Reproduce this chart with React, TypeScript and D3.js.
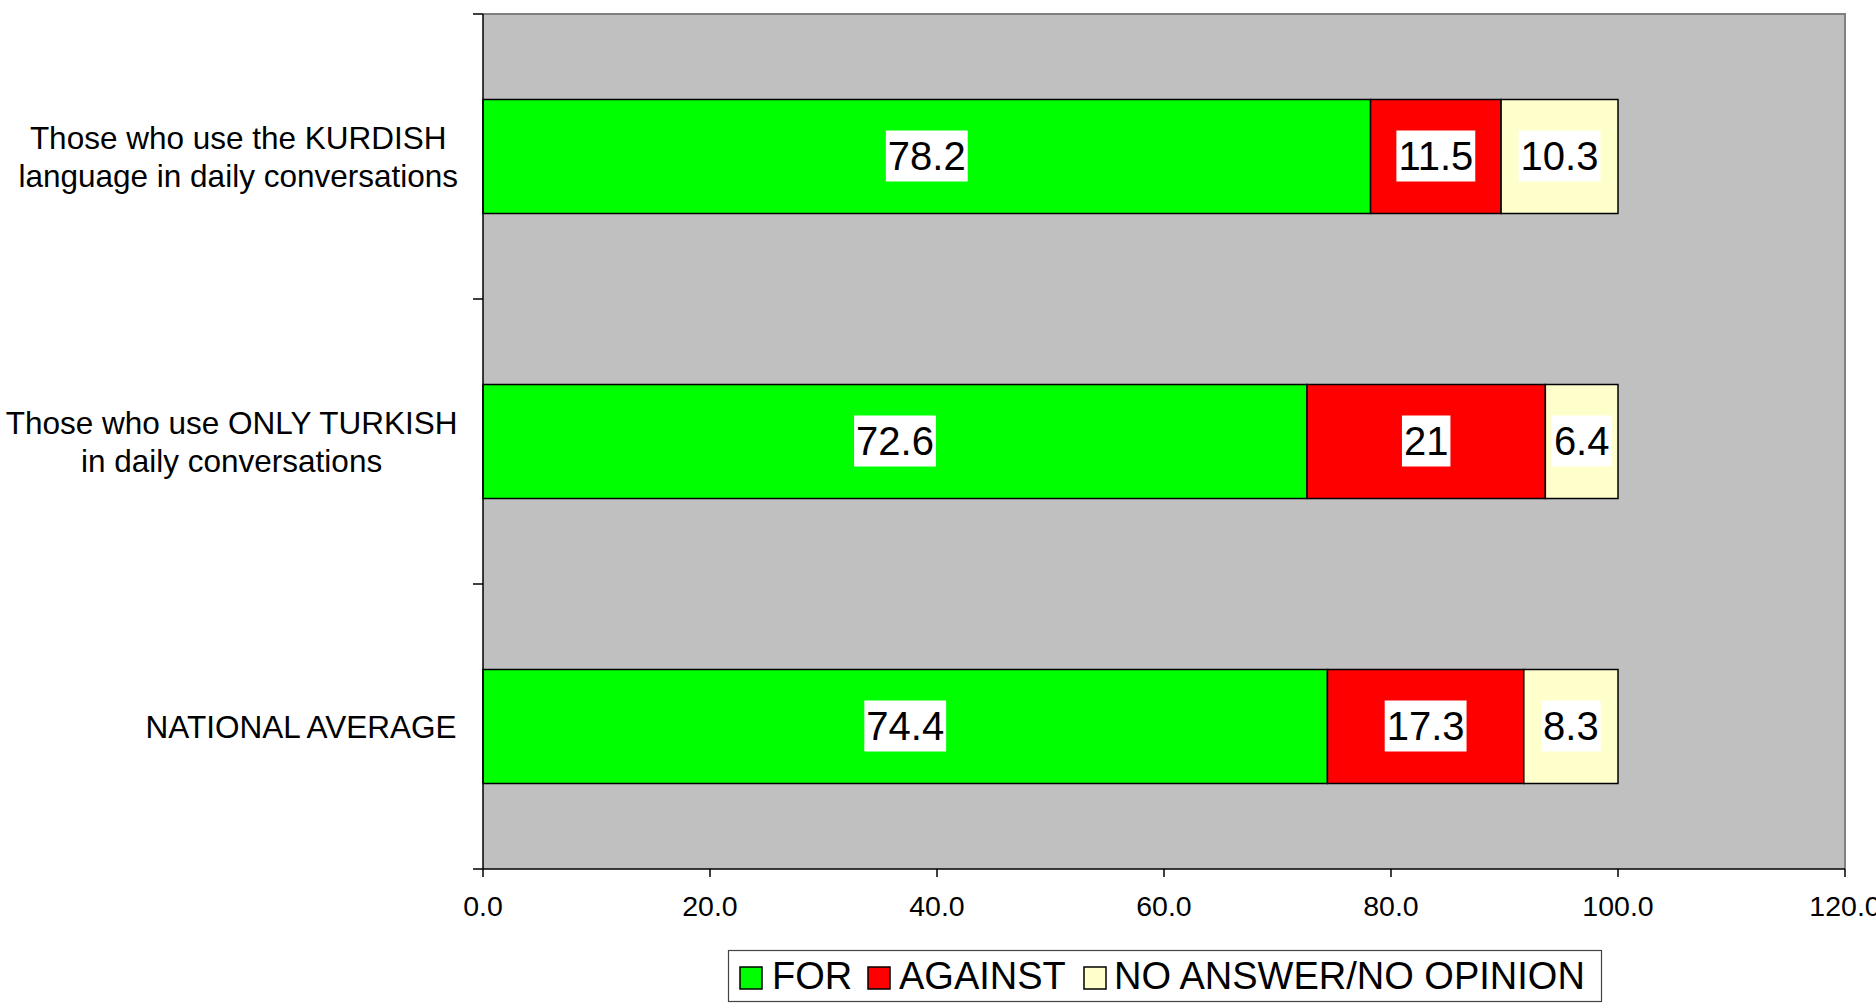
import React from "react";
import * as d3 from "d3";

const categories: string[][] = [
  ["Those who use the KURDISH", "language in daily conversations"],
  ["Those who use ONLY TURKISH", "in daily conversations"],
  ["NATIONAL AVERAGE"],
];
const seriesNames = ["FOR", "AGAINST", "NO ANSWER/NO OPINION"];
const seriesColors = ["#00FF00", "#FF0000", "#FFFFCC"];
const forValues = [78.2, 72.6, 74.4];
const againstValues = [11.5, 21, 17.3];
const noAnswerValues = [10.3, 6.4, 8.3];
const xTicks = [0, 20, 40, 60, 80, 100, 120];

const W = 1876;
const H = 1006;
const M = { left: 483, right: 1845, top: 14, bottom: 869 };
const FONT = "'Liberation Sans', Arial, sans-serif";

let ctx: CanvasRenderingContext2D | null = null;
function measure(text: string, size: number): number {
  if (typeof document === "undefined") return text.length * size * 0.55;
  if (!ctx) ctx = document.createElement("canvas").getContext("2d");
  if (!ctx) return text.length * size * 0.55;
  ctx.font = `${size}px 'Liberation Sans', Arial, sans-serif`;
  return ctx.measureText(text).width;
}

export default function App() {
  const x = d3.scaleLinear().domain([0, 120]).range([M.left, M.right]);
  const y = d3
    .scaleBand<number>()
    .domain(categories.map((_, i) => i))
    .range([M.top, M.bottom])
    .paddingInner(0.6)
    .paddingOuter(0.3);
  const step = y.step();

  const rows = categories.map((c, i) => ({
    i,
    values: [forValues[i], againstValues[i], noAnswerValues[i]],
  }));
  const stack = d3.stack<any>().keys(["0", "1", "2"]).value((d, k) => d.values[+k]);
  const stacked = stack(rows);

  const labelFont = 31.5;
  const dataFont = 40;
  const tickFont = 28.5;
  const legendFont = 38;

  const legendItems = [
    { sx: 740, tx: 772 },
    { sx: 868, tx: 899 },
    { sx: 1084, tx: 1114 },
  ];

  return (
    <svg
      width={W}
      height={H}
      style={{ position: "absolute", left: 0, top: 0, background: "#fff" }}
      fontFamily={FONT}
    >
      <rect x={M.left} y={M.top} width={M.right - M.left} height={M.bottom - M.top} fill="#C0C0C0" />
      <path
        d={`M${M.left},${M.top}H${M.right}V${M.bottom}`}
        fill="none"
        stroke="#808080"
        strokeWidth={2}
      />

      {stacked.map((layer, si) =>
        layer.map((d, ci) => {
          const y0 = y(ci)!;
          return (
            <rect
              key={`${si}-${ci}`}
              x={x(d[0])}
              y={y0}
              width={x(d[1]) - x(d[0])}
              height={y.bandwidth()}
              fill={seriesColors[si]}
              stroke="#000"
              strokeWidth={1.5}
            />
          );
        })
      )}

      {stacked.map((layer, si) =>
        layer.map((d, ci) => {
          const v = rows[ci].values[si];
          const txt = String(v);
          const cx = (x(d[0]) + x(d[1])) / 2;
          const cy = y(ci)! + y.bandwidth() / 2;
          const tw = measure(txt, dataFont);
          return (
            <g key={`l-${si}-${ci}`}>
              <rect x={cx - tw / 2 - 2} y={cy - 26} width={tw + 4} height={51} fill="#fff" />
              <text
                x={cx}
                y={cy + dataFont * 0.36 - 1}
                textAnchor="middle"
                fontSize={dataFont}
                fill="#000"
              >
                {txt}
              </text>
            </g>
          );
        })
      )}

      <line x1={M.left} x2={M.left} y1={M.top} y2={M.bottom} stroke="#000" strokeWidth={1.5} />
      {d3.range(categories.length + 1).map((k) => {
        const yy = M.top + k * step;
        return (
          <line key={`yt${k}`} x1={M.left - 10} x2={M.left} y1={yy} y2={yy} stroke="#000" strokeWidth={1.5} />
        );
      })}

      <line x1={M.left} x2={M.right} y1={M.bottom} y2={M.bottom} stroke="#000" strokeWidth={1.5} />
      {xTicks.map((t) => (
        <g key={`xt${t}`}>
          <line x1={x(t)} x2={x(t)} y1={M.bottom} y2={M.bottom + 8} stroke="#000" strokeWidth={1.5} />
          <text x={x(t)} y={916} textAnchor="middle" fontSize={tickFont} fill="#000">
            {t.toFixed(1)}
          </text>
        </g>
      ))}

      {categories.map((lines, ci) => {
        const cy = y(ci)! + y.bandwidth() / 2;
        const maxW = Math.max(...lines.map((l) => measure(l, labelFont)));
        const right = 458;
        const cx = right - maxW / 2;
        const lh = 38;
        const first = cy + labelFont * 0.36 - ((lines.length - 1) * lh) / 2;
        return (
          <g key={`cat${ci}`}>
            {lines.map((l, li) => (
              <text
                key={li}
                x={cx}
                y={first + li * lh}
                textAnchor="middle"
                fontSize={labelFont}
                fill="#000"
              >
                {l}
              </text>
            ))}
          </g>
        );
      })}

      <rect x={728.5} y={950.5} width={873} height={51} fill="#fff" stroke="#444" strokeWidth={1.2} />
      {seriesNames.map((name, si) => (
        <g key={`lg${si}`}>
          <rect
            x={legendItems[si].sx}
            y={967}
            width={22}
            height={22}
            fill={seriesColors[si]}
            stroke="#000"
            strokeWidth={1.5}
          />
          <text x={legendItems[si].tx} y={989} fontSize={legendFont} fill="#000">
            {name}
          </text>
        </g>
      ))}
    </svg>
  );
}
